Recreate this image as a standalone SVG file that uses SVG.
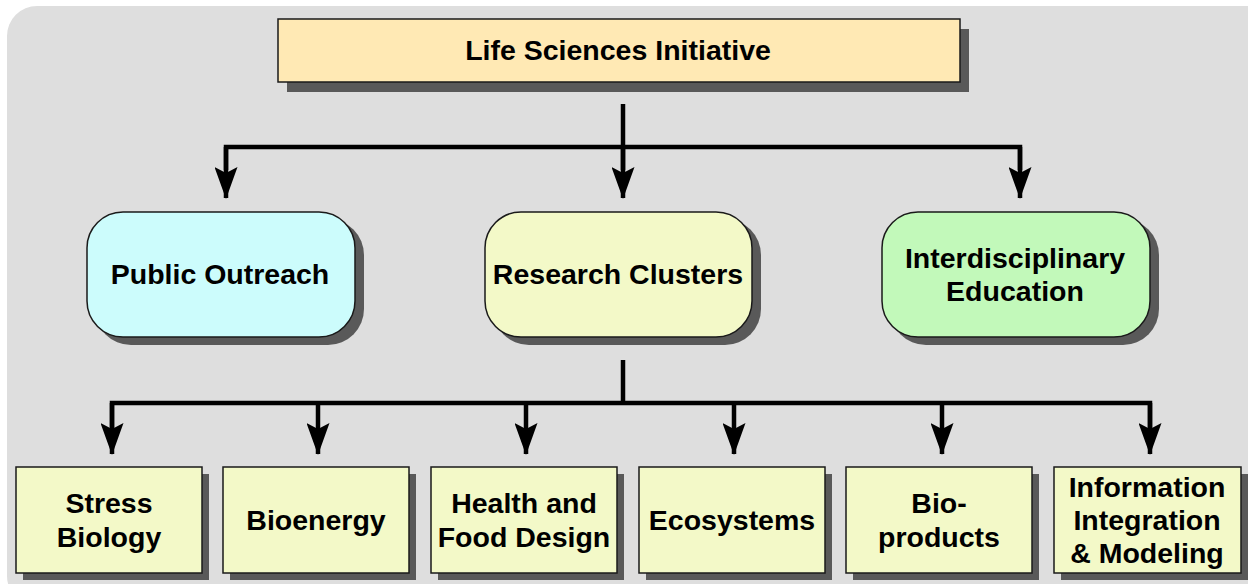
<svg xmlns="http://www.w3.org/2000/svg" width="1248" height="584" viewBox="0 0 1248 584">
  <style>
    .lbl { font-family: "Liberation Sans", Arial, sans-serif; font-weight: bold; font-size: 28.5px; fill: #000; text-anchor: middle; }
    .box { stroke: #1a1a1a; stroke-width: 1.5; }
    .shadow { fill: #595959; }
    .conn { fill: none; stroke: #000; stroke-width: 4.5; }
  </style>
  <defs>
    <marker id="arrow" viewBox="0 0 32 23" refX="31" refY="11.5" markerWidth="32" markerHeight="23" markerUnits="userSpaceOnUse" orient="auto">
      <path d="M0,0 L6,11.5 L0,23 L32,11.5 Z" fill="#000"/>
    </marker>
  </defs>

  <rect width="1248" height="584" fill="#ffffff"/>
  <!-- background panel -->
  <rect x="7" y="6" width="1270" height="600" rx="30" ry="30" fill="#dedede"/>

  <!-- connectors -->
  <g id="connectors">
    <path class="conn" d="M623,104 V170"/>
    <path class="conn" d="M226,170 V147 H1020 V170"/>
    <path class="conn" d="M226,147 V198" marker-end="url(#arrow)"/>
    <path class="conn" d="M623,147 V198" marker-end="url(#arrow)"/>
    <path class="conn" d="M1020,147 V198" marker-end="url(#arrow)"/>

    <path class="conn" d="M623,360 V403"/>
    <path class="conn" d="M112,430 V403 H1150 V430"/>
    <path class="conn" d="M112,403 V454" marker-end="url(#arrow)"/>
    <path class="conn" d="M318,403 V454" marker-end="url(#arrow)"/>
    <path class="conn" d="M526,403 V454" marker-end="url(#arrow)"/>
    <path class="conn" d="M734,403 V454" marker-end="url(#arrow)"/>
    <path class="conn" d="M942,403 V454" marker-end="url(#arrow)"/>
    <path class="conn" d="M1150,403 V454" marker-end="url(#arrow)"/>
  </g>

  <g id="life-sciences">
    <rect class="shadow" x="287" y="29" width="682" height="63"/>
    <rect class="box" x="278" y="19" width="682" height="63" fill="#ffe9b4"/>
    <text class="lbl" x="618" y="60">Life Sciences Initiative</text>
  </g>

  <g id="public-outreach">
    <rect class="shadow" x="95" y="219" width="269" height="126" rx="36" ry="36"/>
    <rect class="box" x="87" y="212" width="268" height="125" rx="36" ry="36" fill="#ccfcfc"/>
    <text class="lbl" x="220" y="284">Public Outreach</text>
  </g>

  <g id="research-clusters">
    <rect class="shadow" x="493" y="219" width="268" height="126" rx="36" ry="36"/>
    <rect class="box" x="485" y="212" width="267" height="125" rx="36" ry="36" fill="#f3f9c8"/>
    <text class="lbl" x="618" y="284">Research Clusters</text>
  </g>

  <g id="interdisciplinary-education">
    <rect class="shadow" x="890" y="219" width="269" height="126" rx="36" ry="36"/>
    <rect class="box" x="882" y="212" width="268" height="125" rx="36" ry="36" fill="#c2f9ba"/>
    <text class="lbl" x="1015" y="268">Interdisciplinary</text>
    <text class="lbl" x="1015" y="301">Education</text>
  </g>

  <g id="stress-biology">
    <rect class="shadow" x="23" y="474" width="186" height="106"/>
    <rect class="box" x="16" y="467" width="186" height="106" fill="#f3f9c8"/>
    <text class="lbl" x="109" y="513">Stress</text>
    <text class="lbl" x="109" y="547">Biology</text>
  </g>

  <g id="bioenergy">
    <rect class="shadow" x="230" y="474" width="186" height="106"/>
    <rect class="box" x="223" y="467" width="186" height="106" fill="#f3f9c8"/>
    <text class="lbl" x="316" y="530">Bioenergy</text>
  </g>

  <g id="health-food-design">
    <rect class="shadow" x="438" y="474" width="186" height="106"/>
    <rect class="box" x="431" y="467" width="186" height="106" fill="#f3f9c8"/>
    <text class="lbl" x="524" y="513">Health and</text>
    <text class="lbl" x="524" y="547">Food Design</text>
  </g>

  <g id="ecosystems">
    <rect class="shadow" x="646" y="474" width="186" height="106"/>
    <rect class="box" x="639" y="467" width="186" height="106" fill="#f3f9c8"/>
    <text class="lbl" x="732" y="530">Ecosystems</text>
  </g>

  <g id="bio-products">
    <rect class="shadow" x="853" y="474" width="186" height="106"/>
    <rect class="box" x="846" y="467" width="186" height="106" fill="#f3f9c8"/>
    <text class="lbl" x="939" y="513">Bio-</text>
    <text class="lbl" x="939" y="547">products</text>
  </g>

  <g id="information-integration">
    <rect class="shadow" x="1061" y="474" width="187" height="106"/>
    <rect class="box" x="1054" y="467" width="187" height="106" fill="#f3f9c8"/>
    <text class="lbl" x="1147" y="497">Information</text>
    <text class="lbl" x="1147" y="530">Integration</text>
    <text class="lbl" x="1147" y="563">&amp; Modeling</text>
  </g>
</svg>
